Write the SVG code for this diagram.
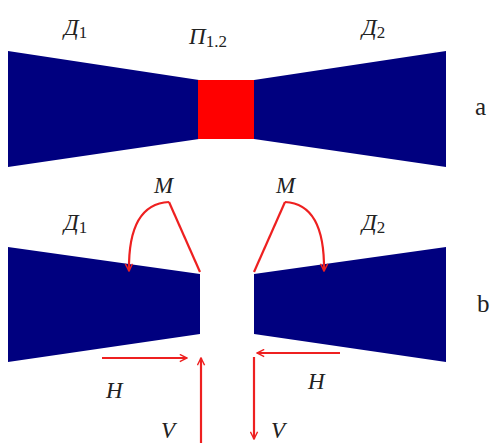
<svg xmlns="http://www.w3.org/2000/svg" width="503" height="443" viewBox="0 0 503 443">
<defs>
<marker id="ah" viewBox="0 0 10 10" refX="9" refY="5" markerWidth="9" markerHeight="9" markerUnits="userSpaceOnUse" orient="auto">
<path d="M1,1 L9,5 L1,9" fill="none" stroke="#ee2020" stroke-width="1.6"/>
</marker>
</defs>
<style>
.blue{fill:#00007f}
.red{fill:#ff0000}
.lbl{font-family:"Liberation Serif","DejaVu Serif",serif;font-style:italic;font-size:23px;fill:#222}
.sub{font-family:"Liberation Serif",serif;font-style:normal;font-size:17px;fill:#222}
.tag{font-family:"Liberation Serif",serif;font-size:25px;fill:#222}
.arr{fill:none;stroke:#ee2020;stroke-width:2.2;marker-end:url(#ah)}
.ln{fill:none;stroke:#ee2020;stroke-width:2.2}
</style>
<g id="figA">
<g id="d1a"><polygon class="blue" points="8,51 199,80 199,139 8,167"/><text class="lbl" x="64" y="35">Д<tspan class="sub" dy="3">1</tspan></text></g>
<g id="p12"><rect class="red" x="198" y="80" width="57" height="59"/><text class="lbl" x="189" y="44">П<tspan class="sub" dy="3">1.2</tspan></text></g>
<g id="d2a"><polygon class="blue" points="254,80 446,51 446,167 254,139"/><text class="lbl" x="362" y="35">Д<tspan class="sub" dy="3">2</tspan></text></g>
<text class="tag" x="475" y="115">a</text>
</g>
<g id="figB">
<g id="d1b"><polygon class="blue" points="8,247 200,274 200,334 8,362"/><text class="lbl" x="64" y="230">Д<tspan class="sub" dy="3">1</tspan></text></g>
<g id="d2b"><polygon class="blue" points="254,274 446,247 446,362 254,334"/><text class="lbl" x="362" y="230">Д<tspan class="sub" dy="3">2</tspan></text></g>
<text class="tag" x="477" y="312">b</text>
</g>
<g id="connectors">
<path class="ln" d="M200,272 L169,202"/>
<path class="arr" d="M169,202 Q128,204 129,271"/>
<path class="ln" d="M254,272 L285,202"/>
<path class="arr" d="M285,202 Q325,204 324,271"/>
<path class="arr" d="M102,358 L187,358"/>
<path class="arr" d="M340,353 L257,353"/>
<path class="arr" d="M201,443 L201,358"/>
<path class="arr" d="M254,357 L254,439"/>
</g>
<g id="labels">
<text class="lbl" x="154" y="193">M</text>
<text class="lbl" x="276" y="193">M</text>
<text class="lbl" x="106" y="398">H</text>
<text class="lbl" x="308" y="389">H</text>
<text class="lbl" x="161" y="438">V</text>
<text class="lbl" x="271" y="438">V</text>
</g>
</svg>
